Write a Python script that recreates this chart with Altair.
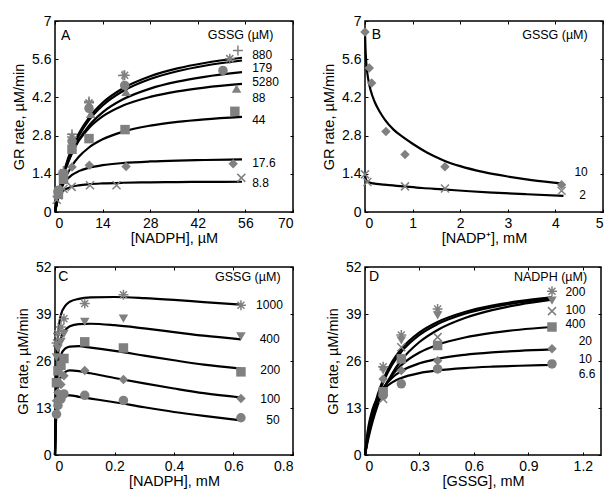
import altair as alt
import pandas as pd

FONT = "Liberation Sans"
GRAY = "#808080"
PLUS = "M-1,0L1,0M0,-1L0,1"
XMARK = "M-0.8,-0.8L0.8,0.8M-0.8,0.8L0.8,-0.8"
STAR = "M-1,0L1,0M0,-1L0,1M-0.7,-0.7L0.7,0.7M-0.7,0.7L0.7,-0.7"
STROKED = [PLUS, XMARK, STAR]
YTITLE = "GR rate, µM/min"

# ---------------- Panel A ----------------
A_series = ["880", "179", "5280", "88", "44", "17.6", "8.8"]
A_shapes = [PLUS, STAR, "circle", "triangle-up", "square", "diamond", XMARK]
A_pt_x = [
    [1, 2.5, 5, 10, 20, 53.8],
    [1, 2.5, 5, 10, 20.5, 51.4],
    [1, 2.5, 5, 10, 20.5, 49.4],
    [1, 2.5, 5, 10.5, 20.9, 53.4],
    [1, 2.5, 5, 10, 20.6, 52.9],
    [1, 2, 5, 10.1, 20.9, 52.4],
    [0.5, 1, 2.5, 4.9, 10.3, 18.1, 54.8],
]
A_pt_y = [
    [0.75, 1.5, 2.85, 4.05, 5.0, 5.92],
    [0.7, 1.45, 2.75, 4.0, 5.01, 5.62],
    [0.8, 1.4, 2.6, 3.8, 4.64, 5.19],
    [0.7, 1.3, 2.4, 3.6, 4.4, 4.52],
    [0.65, 1.2, 2.3, 2.69, 3.02, 3.69],
    [0.8, 1.4, 1.65, 1.71, 1.67, 1.77],
    [0.45, 0.61, 0.85, 0.92, 0.98, 0.98, 1.25],
]
A_curve_x = [0, 0.5, 1, 2, 3, 5, 7, 10, 14, 20, 28, 36, 44, 55]
A_curve_y = [
    [0, 0.346, 0.657, 1.194, 1.642, 2.347, 2.875, 3.459, 4.002, 4.535, 4.977, 5.262, 5.461, 5.653],
    [0, 0.331, 0.631, 1.150, 1.584, 2.271, 2.789, 3.364, 3.901, 4.432, 4.873, 5.159, 5.359, 5.552],
    [0, 0.320, 0.608, 1.103, 1.514, 2.157, 2.637, 3.165, 3.652, 4.129, 4.523, 4.776, 4.953, 5.123],
    [0, 0.343, 0.645, 1.151, 1.557, 2.171, 2.612, 3.082, 3.502, 3.900, 4.220, 4.422, 4.561, 4.693],
    [0, 0.279, 0.520, 0.918, 1.232, 1.696, 2.022, 2.364, 2.663, 2.943, 3.165, 3.304, 3.398, 3.488],
    [0, 0.348, 0.593, 0.916, 1.119, 1.360, 1.498, 1.622, 1.717, 1.795, 1.852, 1.885, 1.906, 1.926],
    [0, 0.355, 0.541, 0.731, 0.829, 0.928, 0.978, 1.019, 1.048, 1.072, 1.088, 1.097, 1.103, 1.108],
]
A_lab_x = [58, 58, 58, 58, 58, 58, 58]
A_lab_y = [5.75, 5.26, 4.75, 4.16, 3.37, 1.78, 1.05]

# ---------------- Panel B ----------------
B_series = ["10", "2"]
B_shapes = ["diamond", XMARK]
B_pt_x = [
    [0, 0.09, 0.14, 0.44, 0.84, 1.68, 4.13],
    [0, 0.05, 0.84, 1.68, 4.13],
]
B_pt_y = [
    [6.6, 5.28, 4.73, 2.95, 2.11, 1.66, 1.0],
    [1.38, 1.1, 0.94, 0.86, 0.78],
]
B_curve_x = [
    [0, 0.01, 0.03, 0.07, 0.12, 0.2, 0.3, 0.42, 0.6, 0.8, 1.0, 1.3, 1.64, 2.0, 2.5, 3.0, 3.5, 4.17],
    [0, 0.02, 0.06, 0.17, 0.4, 0.8, 1.2, 1.64, 2.2, 2.69, 3.4, 4.17],
]
B_curve_y = [
    [6.6, 6.0, 5.4, 4.85, 4.45, 4.05, 3.7, 3.38, 3.02, 2.74, 2.5, 2.18, 1.9, 1.68, 1.46, 1.3, 1.17, 1.04],
    [1.35, 1.2, 1.1, 1.05, 1.0, 0.94, 0.88, 0.83, 0.76, 0.71, 0.65, 0.59],
]
B_lab_x = [4.4, 4.5]
B_lab_y = [1.47, 0.61]

# ---------------- Panel C ----------------
C_series = ["1000", "400", "200", "100", "50"]
C_shapes = [STAR, "triangle-down", "square", "diamond", "circle"]
C_pt_xs = [0.005, 0.01, 0.02, 0.03, 0.1, 0.23, 0.625]
C_pt_y = [
    [31, 33.6, 35.4, 37.7, 41.9, 44.3, 41.4],
    [27, 29.4, 31.3, 33.5, 36.8, 37.7, 32.8],
    [20, 23.3, 24.8, 26.7, 31.3, 29.6, 23.0],
    [15, 17.3, 19.5, 21.9, 23.4, 20.9, 15.6],
    [11.3, 13.7, 15.5, 16.9, 16.5, 15.1, 10.3],
]
C_curve_x = [0, 0.002, 0.005, 0.01, 0.02, 0.035, 0.05, 0.08, 0.12, 0.2, 0.3, 0.4, 0.5, 0.625]
C_curve_y = [
    [0, 12, 24, 33, 38.8, 41.3, 42.4, 43.2, 43.6, 43.7, 43.4, 42.9, 42.3, 41.6],
    [0, 10, 20, 27.5, 32.3, 34.6, 35.6, 36.2, 36.3, 35.9, 35.0, 34.0, 33.0, 32.0],
    [0, 9, 17, 23.3, 27.6, 29.5, 30.0, 30.1, 29.7, 28.8, 27.5, 26.2, 25.0, 23.9],
    [0, 7.5, 14, 18.7, 21.7, 23.0, 23.4, 23.2, 22.6, 21.3, 19.8, 18.4, 17.1, 15.9],
    [0, 6.5, 11.3, 14.4, 16.0, 16.5, 16.5, 16.1, 15.6, 14.6, 13.2, 11.9, 10.8, 9.6],
]
C_lab_x = [0.676, 0.688, 0.69, 0.69, 0.71]
C_lab_y = [41.4, 32.2, 23.4, 15.6, 9.6]

# ---------------- Panel D ----------------
D_series = ["200", "100", "400", "20", "10", "6.6"]
D_shapes = [STAR, "triangle-down", XMARK, "square", "diamond", "circle"]
D_pt_xs = [0.1, 0.2, 0.4, 1.03]
D_pt_y = [
    [24.4, 33.2, 40.4, 45.3],
    [23.4, 31.7, 38.6, 42.7],
    [15.5, 29.8, 32.6, 39.8],
    [17.5, 26.6, 30.3, 35.4],
    [21.0, 23.4, 26.1, 29.4],
    [16.5, 19.7, 23.8, 25.2],
]
D_curve_x = [0, 0.01, 0.02, 0.04, 0.07, 0.1, 0.15, 0.2, 0.3, 0.4, 0.55, 0.7, 0.85, 1.03]
D_curve_y = [
    [0, 3.36, 6.29, 11.16, 16.71, 20.84, 25.82, 29.32, 33.91, 36.80, 39.55, 41.31, 42.54, 43.60],
    [0, 3.16, 5.94, 10.61, 15.99, 20.06, 25.02, 28.54, 33.23, 36.20, 39.06, 40.90, 42.19, 43.30],
    [0, 2.57, 4.89, 8.92, 13.80, 17.66, 22.56, 26.21, 31.25, 34.58, 37.87, 40.06, 41.61, 42.97],
    [0, 3.10, 5.75, 10.04, 14.76, 18.17, 22.15, 24.87, 28.36, 30.50, 32.50, 33.77, 34.65, 35.40],
    [0, 3.98, 7.06, 11.51, 15.77, 18.51, 21.40, 23.21, 25.36, 26.60, 27.70, 28.37, 28.82, 29.20],
    [0, 4.83, 8.15, 12.41, 15.98, 18.07, 20.10, 21.30, 22.66, 23.40, 24.05, 24.43, 24.69, 24.90],
]
D_lab_x = [1.104, 1.104, 1.104, 1.177, 1.177, 1.177]
D_lab_y = [45.0, 40.2, 36.3, 31.4, 26.6, 22.5]


def panel(key, series, shapes, pt_x, pt_y, curve_x, curve_y, lab_x, lab_y,
          xdom, xvals, ydom, yvals, xtitle, letter, letter_xy, head, head_xy, w, h):
    ids = [key + s for s in series]
    crow, prow = [], []
    for s, cx, cy in zip(ids, curve_x, curve_y):
        for a, b in zip(cx, cy):
            crow.append({"s": s, "x": a, "y": b})
    for s, px, py in zip(ids, pt_x, pt_y):
        for a, b in zip(px, py):
            prow.append({"s": s, "x": a, "y": b})
    cdf = pd.DataFrame(crow)
    pdf = pd.DataFrame(prow)
    filled_s = [s for s, sh in zip(ids, shapes) if sh not in STROKED]
    stroked_s = [s for s, sh in zip(ids, shapes) if sh in STROKED]
    ldf = pd.DataFrame({"x": lab_x, "y": lab_y, "t": series})
    tdf = pd.DataFrame({"x": [letter_xy[0]], "y": [letter_xy[1]], "t": [letter]})
    hdf = pd.DataFrame({"x": [head_xy[0]], "y": [head_xy[1]], "t": [head]})

    xs = alt.Scale(domain=xdom, nice=False, zero=False)
    ys = alt.Scale(domain=ydom, nice=False, zero=False)
    lab = "toString(datum.value)"
    bottom = alt.Axis(orient="bottom", values=xvals, labelExpr=lab, tickSize=3, offset=-3,
                      domain=False, grid=False, labelPadding=4, title=xtitle, titlePadding=1)
    left = alt.Axis(orient="left", values=yvals, labelExpr=lab, tickSize=3, offset=-3,
                    domain=False, grid=False, labelPadding=4, title=YTITLE, titlePadding=5)
    top = alt.Axis(orient="top", values=xvals, tickSize=3, offset=-3, domain=False,
                   grid=False, labels=False, title=None)
    right = alt.Axis(orient="right", values=yvals, tickSize=3, offset=-3, domain=False,
                     grid=False, labels=False, title=None)
    shape_scale = alt.Scale(domain=ids, range=shapes)

    lines = alt.Chart(cdf).mark_line(color="black", strokeWidth=2.2, interpolate="monotone").encode(
        x=alt.X("x:Q", scale=xs, axis=bottom),
        y=alt.Y("y:Q", scale=ys, axis=left),
        detail="s:N",
    )
    pfill = alt.Chart(pdf).transform_filter(
        alt.FieldOneOfPredicate(field="s", oneOf=filled_s if filled_s else ["__none__"])
    ).mark_point(filled=True, color=GRAY, opacity=1, size=90).encode(
        x=alt.X("x:Q", scale=xs, axis=top),
        y=alt.Y("y:Q", scale=ys, axis=right),
        shape=alt.Shape("s:N", scale=shape_scale, legend=None),
    )
    pstroke = alt.Chart(pdf).transform_filter(
        alt.FieldOneOfPredicate(field="s", oneOf=stroked_s if stroked_s else ["__none__"])
    ).mark_point(filled=False, color=GRAY, opacity=1, size=100, strokeWidth=1.5).encode(
        x=alt.X("x:Q", scale=xs, axis=None),
        y=alt.Y("y:Q", scale=ys, axis=None),
        shape=alt.Shape("s:N", scale=shape_scale, legend=None),
    )
    labels = alt.Chart(ldf).mark_text(align="left", baseline="middle", fontSize=12,
                                      color="black").encode(
        x=alt.X("x:Q", scale=xs, axis=None), y=alt.Y("y:Q", scale=ys, axis=None), text="t:N")
    let = alt.Chart(tdf).mark_text(align="left", baseline="middle", fontSize=14,
                                   color="black").encode(
        x=alt.X("x:Q", scale=xs, axis=None), y=alt.Y("y:Q", scale=ys, axis=None), text="t:N")
    hd = alt.Chart(hdf).mark_text(align="center", baseline="middle", fontSize=12.5,
                                  color="black").encode(
        x=alt.X("x:Q", scale=xs, axis=None), y=alt.Y("y:Q", scale=ys, axis=None), text="t:N")
    return alt.layer(lines, pfill, pstroke, labels, let, hd).resolve_axis(
        x="independent", y="independent").properties(width=w, height=h)


pA = panel("A", A_series, A_shapes, A_pt_x, A_pt_y, [A_curve_x] * len(A_series), A_curve_y,
           A_lab_x, A_lab_y, [0, 70], [0, 14, 28, 42, 56, 70], [0, 7], [0, 1.4, 2.8, 4.2, 5.6, 7],
           "[NADPH], µM", "A", (1.8, 6.45), "GSSG (µM)", (54.6, 6.47), 238, 191)
pB = panel("B", B_series, B_shapes, B_pt_x, B_pt_y, B_curve_x, B_curve_y,
           B_lab_x, B_lab_y, [0, 5], [0, 1, 2, 3, 4, 5], [0, 7], [0, 1.4, 2.8, 4.2, 5.6, 7],
           "[NADP⁺], mM", "B", (0.14, 6.5), "GSSG (µM)", (3.99, 6.5), 238, 191)
pC = panel("C", C_series, C_shapes, [C_pt_xs] * len(C_series), C_pt_y, [C_curve_x] * len(C_series),
           C_curve_y, C_lab_x, C_lab_y, [0, 0.8], [0, 0.2, 0.4, 0.6, 0.8], [0, 52],
           [0, 13, 26, 39, 52], "[NADPH], mM", "C", (0.011, 49.2), "GSSG (µM)", (0.648, 49.2), 238, 188)
pD = panel("D", D_series, D_shapes, [D_pt_xs] * len(D_series), D_pt_y, [D_curve_x] * len(D_series),
           D_curve_y, D_lab_x, D_lab_y, [0, 1.3], [0, 0.3, 0.6, 0.9, 1.2], [0, 52],
           [0, 13, 26, 39, 52], "[GSSG], mM", "D", (0.022, 49.2), "NADPH (µM)", (1.022, 49.2), 236, 188)

chart = alt.concat(pA, pB, pC, pD, columns=2, spacing={"row": 55, "column": 72},
                   bounds="flush").resolve_scale(shape="independent").configure_view(
    stroke="black", strokeWidth=1.5
).configure_axis(
    labelFont=FONT, titleFont=FONT, labelFontSize=14, titleFontSize=14.5,
    titleFontWeight="normal", labelColor="black", titleColor="black",
    tickColor="black", tickWidth=1,
).configure_text(font=FONT).properties(
    padding={"left": 2, "top": 5, "right": 0, "bottom": 0}, background="white"
)

chart.save("out.html", embed_options={"renderer": "svg", "actions": False})
